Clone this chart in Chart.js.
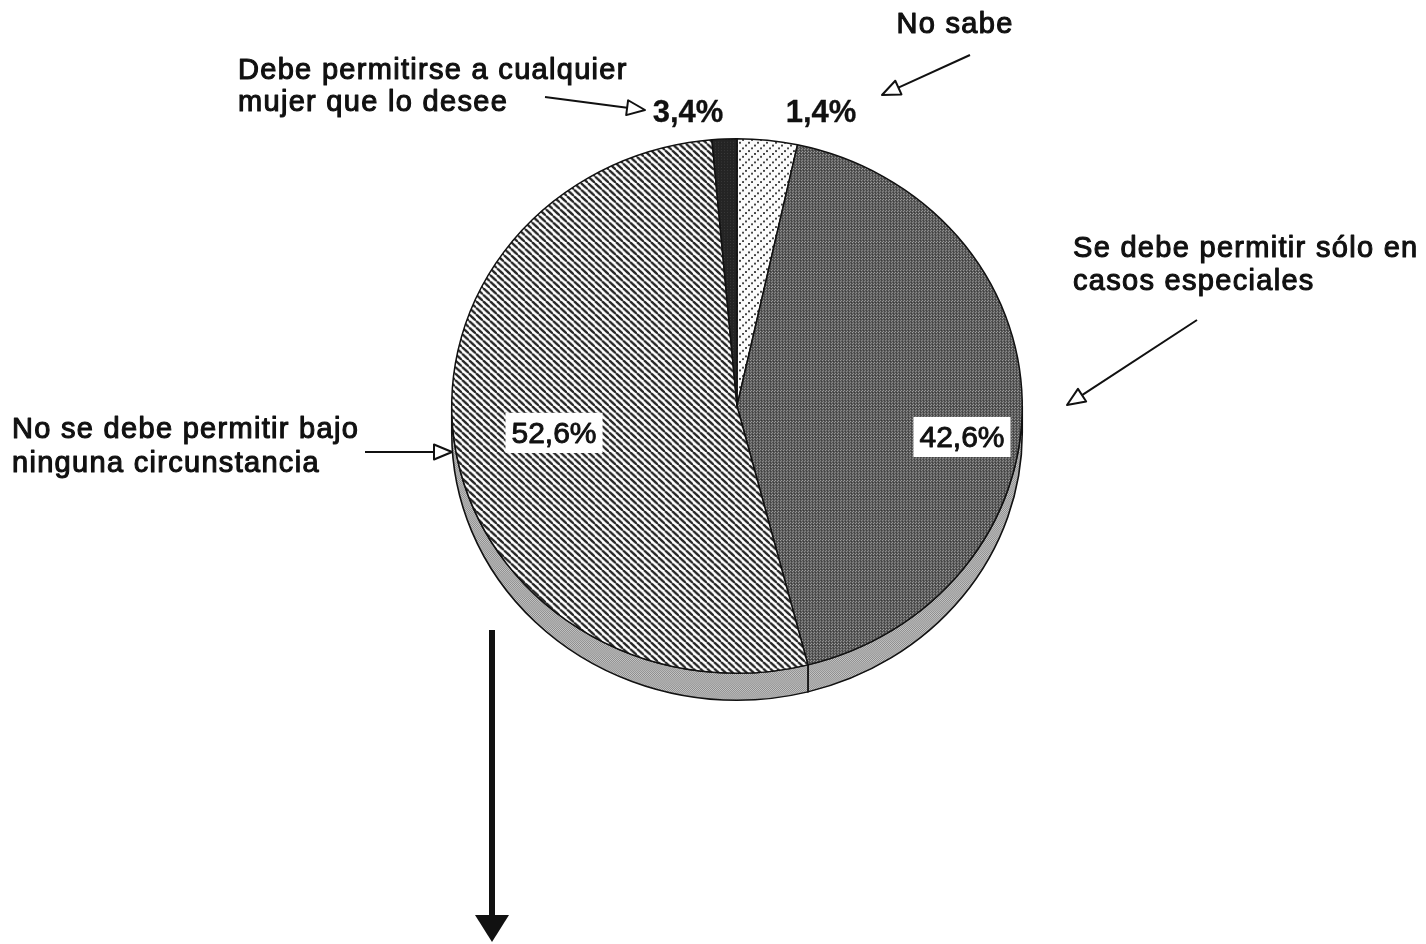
<!DOCTYPE html>
<html lang="es">
<head>
<meta charset="utf-8">
<title>Opinión sobre el aborto</title>
<script src="https://cdn.jsdelivr.net/npm/chart.js@4.4.1/dist/chart.umd.min.js"></script>
<style>
  html, body { margin: 0; padding: 0; background: #ffffff; }
  #wrap { width: 1426px; height: 944px; position: relative; }
  canvas { display: block; }
</style>
</head>
<body>
<div id="wrap"><canvas id="pie" width="1426" height="944"></canvas></div>
<script>
// Slices, clockwise from twelve o'clock
const categories = [
  'Debe permitirse a cualquier mujer que lo desee',
  'Se debe permitir sólo en casos especiales',
  'No se debe permitir bajo ninguna circunstancia',
  'No sabe'
];
const percentages = [3.4, 42.6, 52.6, 1.4];

// Callout text, one entry per slice, already broken into lines
const calloutLines = [
  ['Debe permitirse a cualquier', 'mujer que lo desee'],
  ['Se debe permitir sólo en', 'casos especiales'],
  ['No se debe permitir bajo', 'ninguna circunstancia'],
  ['No sabe']
];

const FONT = '"Liberation Sans", Arial, Helvetica, sans-serif';
const TILT = 0.937;   // vertical squash of the disc
const DEPTH = 27;     // visible thickness of the rim, px

function fmt(v) { return v.toFixed(1).replace('.', ',') + '%'; }

// ---- fill textures ----
function tile(w, h, paint) {
  const c = document.createElement('canvas');
  c.width = w; c.height = h;
  const g = c.getContext('2d');
  paint(g, w, h);
  return document.getElementById('pie').getContext('2d').createPattern(c, 'repeat');
}
const hatch = tile(7, 7, (g, w, h) => {
  g.fillStyle = '#ffffff'; g.fillRect(0, 0, w, h);
  g.strokeStyle = '#262626'; g.lineWidth = 2.4;
  for (const o of [-w, 0, w]) {
    g.beginPath(); g.moveTo(o, 0); g.lineTo(o + w, h); g.stroke();
  }
});
const darkDots = tile(3, 3, (g) => {
  g.fillStyle = '#555555'; g.fillRect(0, 0, 3, 3);
  g.fillStyle = '#a0a0a0'; g.fillRect(0, 0, 1, 1); g.fillRect(1, 2, 1, 1);
  g.fillStyle = '#383838'; g.fillRect(2, 1, 1, 1);
});
const lightDots = tile(9, 9, (g) => {
  g.fillStyle = '#fbfbfb'; g.fillRect(0, 0, 9, 9);
  g.fillStyle = '#444444';
  g.fillRect(7, 1, 2, 2); g.fillRect(4, 4, 2, 2); g.fillRect(1, 7, 2, 2);
});
const blackFill = tile(3, 3, (g) => {
  g.fillStyle = '#242424'; g.fillRect(0, 0, 3, 3);
  g.fillStyle = '#3a3a3a'; g.fillRect(1, 1, 1, 1);
});
const rimDots = tile(2, 2, (g) => {
  g.fillStyle = '#c6c6c6'; g.fillRect(0, 0, 2, 2);
  g.fillStyle = '#8c8c8c'; g.fillRect(0, 0, 1, 1); g.fillRect(1, 1, 1, 1);
});

// ---- rim below the disc, and the tilt of the disc itself ----
const tiltPlugin = {
  id: 'tilt',
  beforeDatasetsDraw(chart) {
    const ctx = chart.ctx;
    const meta = chart.getDatasetMeta(0);
    const first = meta.data[0];
    const cx = first.x, cy = first.y, r = first.outerRadius;
    ctx.save();
    ctx.translate(cx, cy); ctx.scale(1, TILT); ctx.translate(-cx, -cy);
    const d = DEPTH / TILT;
    meta.data.forEach((arc) => {
      const s = Math.max(arc.startAngle, 0);
      const e = Math.min(arc.endAngle, Math.PI);
      if (e <= s) return;
      ctx.beginPath();
      ctx.arc(cx, cy, r, s, e);
      ctx.arc(cx, cy + d, r, e, s, true);
      ctx.closePath();
      ctx.fillStyle = rimDots; ctx.fill();
      ctx.lineWidth = 1.6; ctx.strokeStyle = '#111'; ctx.stroke();
    });
  },
  afterDatasetsDraw(chart) { chart.ctx.restore(); }
};

// ---- callouts, arrows and value labels ----
function openArrow(ctx, x0, y0, x1, y1) {
  const ang = Math.atan2(y1 - y0, x1 - x0);
  const len = 18, half = 7.5;
  const bx = x1 - len * Math.cos(ang), by = y1 - len * Math.sin(ang);
  ctx.strokeStyle = '#111'; ctx.lineWidth = 2;
  ctx.beginPath(); ctx.moveTo(x0, y0); ctx.lineTo(bx, by); ctx.stroke();
  ctx.beginPath();
  ctx.moveTo(x1, y1);
  ctx.lineTo(bx + half * Math.sin(ang), by - half * Math.cos(ang));
  ctx.lineTo(bx - half * Math.sin(ang), by + half * Math.cos(ang));
  ctx.closePath();
  ctx.fillStyle = '#fff'; ctx.fill();
  ctx.lineWidth = 2; ctx.stroke();
}
function textLine(ctx, s, x, y, align) {
  ctx.textAlign = align;
  ctx.fillText(s, x, y);
  ctx.strokeText(s, x, y);
}

const calloutLayout = [
  { tx: 238, ty: [79, 111], align: 'left',  arrow: [545, 97, 645, 110], lx: 688, ly: 122, inside: false },
  { tx: 1073, ty: [257, 290], align: 'left', arrow: [1197, 320, 1067, 405], lx: 962, ly: 447, inside: true },
  { tx: 12, ty: [438, 472], align: 'left',  arrow: [365, 452, 452, 452], lx: 554, ly: 443, inside: true },
  { tx: 955, ty: [33], align: 'center',     arrow: [970, 55, 882, 95], lx: 821, ly: 122, inside: false }
];

const calloutPlugin = {
  id: 'callouts',
  afterDraw(chart) {
    const ctx = chart.ctx;
    ctx.save();
    ctx.textBaseline = 'alphabetic';
    ctx.lineJoin = 'round';
    calloutLayout.forEach((c, i) => {
      // category text
      ctx.font = '29px ' + FONT;
      ctx.letterSpacing = '1.3px';
      ctx.fillStyle = '#111'; ctx.strokeStyle = '#111'; ctx.lineWidth = 1.1;
      calloutLines[i].forEach((line, k) => textLine(ctx, line, c.tx, c.ty[k], c.align));
      openArrow(ctx, ...c.arrow);
      // value
      const label = fmt(percentages[i]);
      ctx.letterSpacing = '0px';
      if (c.inside) {
        ctx.font = '30px ' + FONT;
        const w = ctx.measureText(label).width;
        ctx.fillStyle = '#ffffff';
        ctx.fillRect(c.lx - w / 2 - 6, c.ly - 30, w + 12, 40);
        ctx.fillStyle = '#111'; ctx.strokeStyle = '#111'; ctx.lineWidth = 0.9;
        textLine(ctx, label, c.lx, c.ly, 'center');
      } else {
        ctx.font = 'bold 31px ' + FONT;
        ctx.fillStyle = '#111'; ctx.strokeStyle = '#111'; ctx.lineWidth = 0.3;
        textLine(ctx, label, c.lx, c.ly, 'center');
      }
    });
    // heavy downward arrow below the disc
    ctx.strokeStyle = '#111'; ctx.lineWidth = 6;
    ctx.beginPath(); ctx.moveTo(492, 630); ctx.lineTo(492, 918); ctx.stroke();
    ctx.fillStyle = '#111';
    ctx.beginPath(); ctx.moveTo(475, 915); ctx.lineTo(509, 915); ctx.lineTo(492, 942); ctx.closePath(); ctx.fill();
    ctx.restore();
  }
};

new Chart(document.getElementById('pie'), {
  type: 'pie',
  data: {
    labels: categories,
    datasets: [{
      data: percentages,
      backgroundColor: [lightDots, darkDots, hatch, blackFill],
      borderColor: '#111',
      borderWidth: 1.5,
      hoverOffset: 0,
      clip: false
    }]
  },
  options: {
    responsive: false,
    animation: false,
    devicePixelRatio: 1,
    events: [],
    rotation: 0,
    layout: { padding: { left: 451, right: 403, top: 120, bottom: 252 } },
    plugins: {
      legend: { display: false },
      tooltip: { enabled: false },
      title: { display: false }
    }
  },
  plugins: [tiltPlugin, calloutPlugin]
});
</script>
</body>
</html>
